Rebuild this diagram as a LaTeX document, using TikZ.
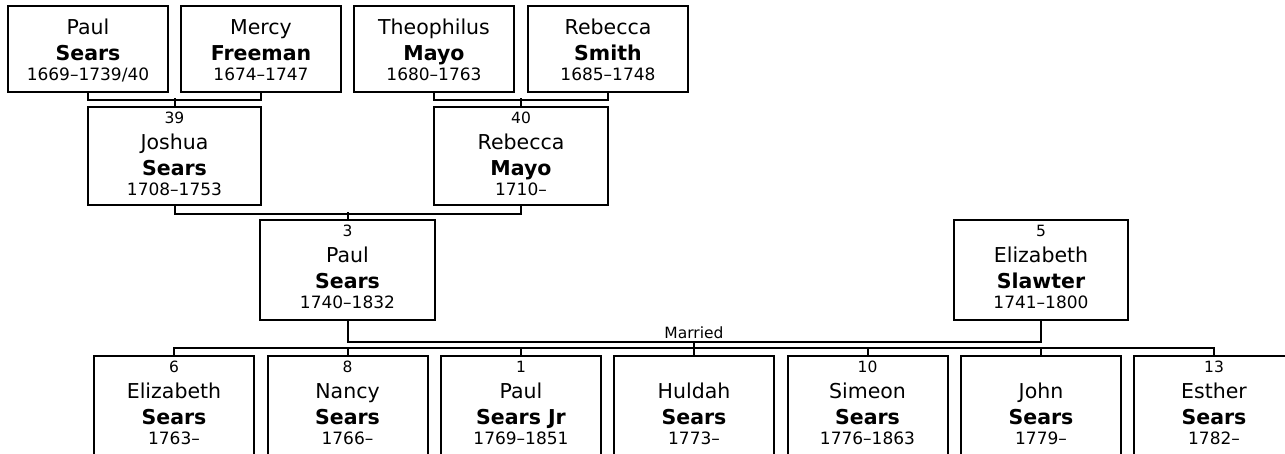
\documentclass[tikz,border=0pt]{standalone}
\usepackage{fontspec}
\setmainfont{DejaVu Sans}
\tikzset{
  pbox/.style={draw, line width=2pt, rectangle, inner sep=0pt, anchor=north west, minimum width=160pt},
  conn/.style={line width=2pt},
  numtxt/.style={anchor=base, inner sep=0pt, font=\fontsize{15.5pt}{17pt}\selectfont},
  nametxt/.style={anchor=base, inner sep=0pt, font=\fontsize{20.5pt}{24pt}\selectfont},
  surtxt/.style={anchor=base, inner sep=0pt, font=\fontsize{20.5pt}{24pt}\selectfont\bfseries},
  datetxt/.style={anchor=base, inner sep=0pt, font=\fontsize{17pt}{19pt}\selectfont},
}
\newcommand\toprowtext[4]{%
  \node[nametxt] at ([yshift=-29pt]#1.north) {#2};
  \node[surtxt] at ([yshift=-55pt]#1.north) {#3};
  \node[datetxt] at ([yshift=-75pt]#1.north) {#4};
}
\newcommand\numtext[5]{%
  \node[numtxt] at ([yshift=-17pt]#1.north) {#2};
  \node[nametxt] at ([yshift=-43pt]#1.north) {#3};
  \node[surtxt] at ([yshift=-69pt]#1.north) {#4};
  \node[datetxt] at ([yshift=-89pt]#1.north) {#5};
}
\begin{document}
\begin{tikzpicture}[x=1pt,y=-1pt]
\useasboundingbox (0,0) rectangle (1285,453);
\clip (0,0) rectangle (1285,453);
\fill[white] (0,0) rectangle (1285,453);
% top row
\node[pbox, minimum height=86pt] (ps) at (7,5) {};
\node[pbox, minimum height=86pt] (mf) at (180,5) {};
\node[pbox, minimum height=86pt] (tm) at (353,5) {};
\node[pbox, minimum height=86pt] (rs) at (527,5) {};
\toprowtext{ps}{Paul}{Sears}{1669–1739/40}
\toprowtext{mf}{Mercy}{Freeman}{1674–1747}
\toprowtext{tm}{Theophilus}{Mayo}{1680–1763}
\toprowtext{rs}{Rebecca}{Smith}{1685–1748}
% second row
\node[pbox, minimum width=173pt, minimum height=98pt] (js) at (87,106) {};
\node[pbox, minimum width=174pt, minimum height=98pt] (rm) at (433,106) {};
\numtext{js}{39}{Joshua}{Sears}{1708–1753}
\numtext{rm}{40}{Rebecca}{Mayo}{1710–}
% third row
\node[pbox, minimum width=175pt, minimum height=100pt] (p3) at (259,219) {};
\node[pbox, minimum width=174pt, minimum height=100pt] (es) at (953,219) {};
\numtext{p3}{3}{Paul}{Sears}{1740–1832}
\numtext{es}{5}{Elizabeth}{Slawter}{1741–1800}
% children
\node[pbox, minimum height=130pt] (c1) at (93,355) {};
\node[pbox, minimum height=130pt] (c2) at (266.5,355) {};
\node[pbox, minimum height=130pt] (c3) at (440,355) {};
\node[pbox, minimum height=130pt] (c4) at (613,355) {};
\node[pbox, minimum height=130pt] (c5) at (786.5,355) {};
\node[pbox, minimum height=130pt] (c6) at (960,355) {};
\node[pbox, minimum height=130pt] (c7) at (1133,355) {};
\numtext{c1}{6}{Elizabeth}{Sears}{1763–}
\numtext{c2}{8}{Nancy}{Sears}{1766–}
\numtext{c3}{1}{Paul}{Sears Jr}{1769–1851}
\numtext{c4}{}{Huldah}{Sears}{1773–}
\numtext{c5}{10}{Simeon}{Sears}{1776–1863}
\numtext{c6}{}{John}{Sears}{1779–}
\numtext{c7}{13}{Esther}{Sears}{1782–}
% connectors
\draw[conn] (ps.south) -- ++(0,7) -| (mf.south);
\draw[conn] (js.north) -- ++(0,-8);
\draw[conn] (tm.south) -- ++(0,7) -| (rs.south);
\draw[conn] (rm.north) -- ++(0,-8);
\draw[conn] (js.south) -- ++(0,8) -| (rm.south);
\draw[conn] (p3.north) -- ++(0,-7);
\draw[conn] (p3.south) -- ++(0,21) coordinate (ml) -| (es.south);
\coordinate (mm) at (ml -| c4.north);
\node[anchor=base, inner sep=0pt, font=\fontsize{15.5pt}{17pt}\selectfont] (mlab) at ([yshift=4pt]mm) {Married};
\draw[conn] (mm) -- (mm |- 0,348);
\draw[conn] (c1.north) -- ++(0,-7) -| (c7.north);
\foreach \c in {c2,c3,c4,c5,c6} \draw[conn] (\c.north) -- ++(0,-7);
\end{tikzpicture}
\end{document}
